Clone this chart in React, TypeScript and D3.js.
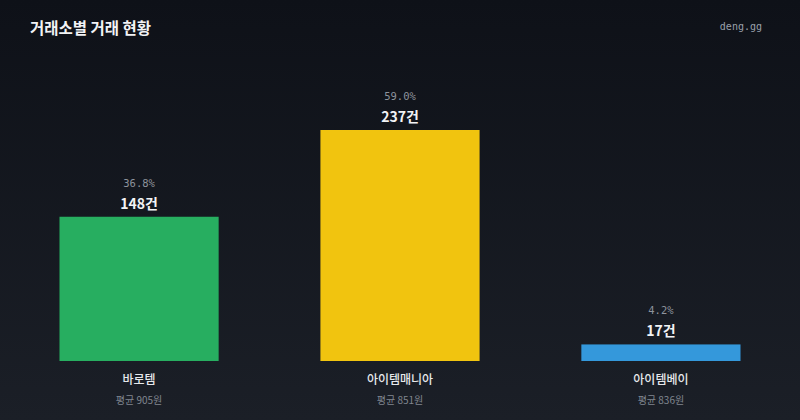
import { useEffect, useRef } from "react";
import * as d3 from "d3";

const exchanges = ["바로템", "아이템매니아", "아이템베이"];
const tradeCounts = [148, 237, 17];
const shares = ["36.8%", "59.0%", "4.2%"];
const avgPrices = [905, 851, 836];
const barColors = ["#27ae60", "#f1c40f", "#3498db"];

const width = 800;
const height = 420;
const sans = "'Noto Sans CJK KR', 'Noto Sans', sans-serif";
const mono = "'DejaVu Sans Mono', monospace";

export default function App() {
  const svgRef = useRef<SVGSVGElement>(null);

  useEffect(() => {
    document.body.style.margin = "0";
    if (!svgRef.current) return;
    const svg = d3.select(svgRef.current);
    svg.selectAll("*").remove();

    const defs = svg.append("defs");
    const grad = defs
      .append("linearGradient")
      .attr("id", "bg")
      .attr("x1", 0)
      .attr("y1", 0)
      .attr("x2", 0)
      .attr("y2", 1);
    grad.append("stop").attr("offset", "0%").attr("stop-color", "#0e1118");
    grad.append("stop").attr("offset", "100%").attr("stop-color", "#1b1f27");

    svg
      .append("rect")
      .attr("width", width)
      .attr("height", height)
      .attr("fill", "url(#bg)");

    svg
      .append("text")
      .attr("x", 30)
      .attr("y", 34)
      .attr("fill", "#f2f3f5")
      .attr("font-family", sans)
      .attr("font-size", 15.5)
      .attr("font-weight", 600)
      .text("거래소별 거래 현황");

    svg
      .append("text")
      .attr("x", 762)
      .attr("y", 30)
      .attr("text-anchor", "end")
      .attr("fill", "#9aa0aa")
      .attr("font-family", mono)
      .attr("font-size", 10)
      .text("deng.gg");

    const baseline = 361;
    const x = d3
      .scaleBand<string>()
      .domain(exchanges)
      .range([0, width])
      .paddingInner(0.39)
      .paddingOuter(0.228);

    const y = d3
      .scaleLinear()
      .domain([0, d3.max(tradeCounts) || 0])
      .range([baseline, 130]);

    const data = exchanges.map((name, i) => ({
      name,
      count: tradeCounts[i],
      share: shares[i],
      avg: avgPrices[i],
      color: barColors[i],
    }));

    const g = svg.append("g");

    // bars
    g.selectAll("rect.bar")
      .data(data)
      .join("rect")
      .attr("class", "bar")
      .attr("x", (d) => x(d.name) || 0)
      .attr("y", (d) => y(d.count))
      .attr("width", x.bandwidth())
      .attr("height", (d) => baseline - y(d.count))
      .attr("fill", (d) => d.color);

    const cx = (d: { name: string }) => (x(d.name) || 0) + x.bandwidth() / 2;

    // share labels
    g.selectAll("text.share")
      .data(data)
      .join("text")
      .attr("class", "share")
      .attr("x", cx)
      .attr("y", (d) => y(d.count) - 30)
      .attr("text-anchor", "middle")
      .attr("fill", "#8d939c")
      .attr("font-family", mono)
      .attr("font-size", 10.5)
      .text((d) => d.share);

    // count labels
    g.selectAll("text.count")
      .data(data)
      .join("text")
      .attr("class", "count")
      .attr("x", cx)
      .attr("y", (d) => y(d.count) - 8)
      .attr("text-anchor", "middle")
      .attr("fill", "#f2f3f5")
      .attr("font-family", sans)
      .attr("font-size", 14)
      .attr("font-weight", 700)
      .text((d) => `${d.count}건`);

    // exchange names
    g.selectAll("text.name")
      .data(data)
      .join("text")
      .attr("class", "name")
      .attr("x", cx)
      .attr("y", 384)
      .attr("text-anchor", "middle")
      .attr("fill", "#e6e8eb")
      .attr("font-family", sans)
      .attr("font-size", 12)
      .attr("font-weight", 500)
      .text((d) => d.name);

    // average price
    g.selectAll("text.avg")
      .data(data)
      .join("text")
      .attr("class", "avg")
      .attr("x", cx)
      .attr("y", 404)
      .attr("text-anchor", "middle")
      .attr("fill", "#80868f")
      .attr("font-family", sans)
      .attr("font-size", 10)
      .text((d) => `평균 ${d.avg}원`);
  }, []);

  return (
    <svg
      ref={svgRef}
      width={width}
      height={height}
      style={{ display: "block" }}
    />
  );
}
